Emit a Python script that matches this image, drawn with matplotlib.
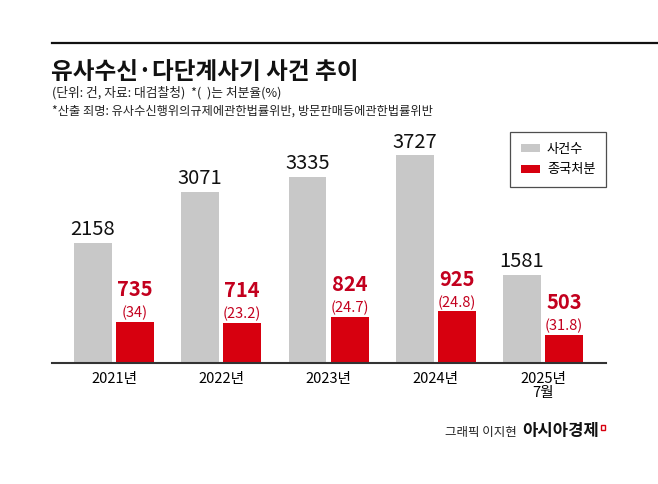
import matplotlib
matplotlib.use("Agg")
import matplotlib.pyplot as plt
import numpy as np
from matplotlib.patches import Rectangle
from matplotlib.lines import Line2D

plt.rcParams['font.family'] = ['Noto Sans CJK KR', 'DejaVu Sans']

# 데이터
years = ["2021년", "2022년", "2023년", "2024년", "2025년\n7월"]
cases = [2158, 3071, 3335, 3727, 1581]
indicted = [735, 714, 824, 925, 503]
rates = ["34", "23.2", "24.7", "24.8", "31.8"]

gray = "#c8c8c8"
red = "#d7000f"
red_txt = "#c3001e"

fig = plt.figure(figsize=(6.58, 4.84), dpi=100)
ax = fig.add_axes([52/658, 1-362.7/484, 554/658, 232.7/484])

x = np.arange(len(years))
w = 0.354
off = 0.196
ax.bar(x - off, cases, w, color=gray, label="사건수")
ax.bar(x + off, indicted, w, color=red, label="종국처분")

ax.set_xlim(-0.578, 4.587)
ax.set_ylim(0, 4185)

for xi, v in zip(x, cases):
    ax.annotate(str(v), (xi - off, v), xytext=(0, 2), textcoords="offset points",
                ha="center", va="bottom", fontsize=14.5, fontweight="medium", color="#111111")
for xi, v, r in zip(x, indicted, rates):
    ax.annotate("(" + r + ")", (xi + off, v), xytext=(0, 1), textcoords="offset points",
                ha="center", va="bottom", fontsize=10.5, color=red_txt)
    ax.annotate(str(v), (xi + off, v), xytext=(0, 15.5), textcoords="offset points",
                ha="center", va="bottom", fontsize=14.5, fontweight="semibold", color=red_txt)

ax.set_xticks(x)
ax.set_xticklabels(years, fontsize=10.5, linespacing=1.0)
ax.tick_params(axis="x", length=0, pad=7)
ax.set_yticks([])
for s in ["top", "right", "left"]:
    ax.spines[s].set_visible(False)
ax.spines["bottom"].set_color("#333333")
ax.spines["bottom"].set_linewidth(1.5)

leg = ax.legend(loc="upper right", bbox_to_anchor=(606/658, 1-132/484),
                bbox_transform=fig.transFigure, fontsize=9.5, frameon=True,
                fancybox=False, handlelength=1.5, handleheight=0.55,
                borderpad=0.8, labelspacing=0.6, handletextpad=0.5, borderaxespad=0)
leg.get_frame().set_edgecolor("#222222")
leg.get_frame().set_linewidth(0.9)

# 상단 선과 제목
fig.add_artist(Line2D([52/658, 1], [1-43/484, 1-43/484], color="#111111", lw=1.6))
fig.text(51/658, 1-79/484, "유사수신·다단계사기 사건 추이", fontsize=17, fontweight="bold",
         ha="left", va="baseline", color="#111111")
fig.text(52/658, 1-97/484, "(단위: 건, 자료: 대검찰청)  *(  )는 처분율(%)", fontsize=9.2,
         ha="left", va="baseline", color="#222222")
fig.text(52/658, 1-115/484, "*산출 죄명: 유사수신행위의규제에관한법률위반, 방문판매등에관한법률위반",
         fontsize=8.8, ha="left", va="baseline", color="#222222")

fig.text(517/658, 1-436/484, "그래픽 이지현", fontsize=9, ha="right", va="baseline", color="#222222")
fig.text(522/658, 1-436/484, "아시아경제", fontsize=12, fontweight="bold", ha="left",
         va="baseline", color="#111111")
fig.add_artist(Rectangle((601/658, 1-430/484), 4/658, 5/484, transform=fig.transFigure,
                         fill=False, edgecolor=red, lw=1))

fig.savefig("out.png", dpi=100, facecolor="white")
